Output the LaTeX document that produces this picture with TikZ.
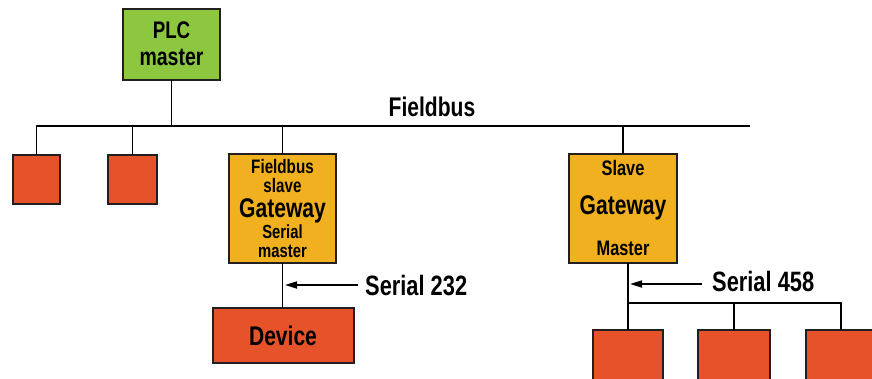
\documentclass[tikz,border=0pt]{standalone}
\usepackage{fontspec}
\setmainfont{Liberation Sans}[FakeStretch=0.78]
\usetikzlibrary{arrows.meta}
\definecolor{plcgreen}{RGB}{141,198,63}
\definecolor{gworange}{RGB}{240,176,32}
\definecolor{devred}{RGB}{230,82,42}
\definecolor{boxline}{RGB}{35,31,32}
\begin{document}
\begin{tikzpicture}[x=1pt,y=-1pt,
  box/.style={draw=boxline, line width=2pt, inner sep=0pt, outer sep=0pt},
  wire/.style={line width=1.7pt, draw=black},
  arr/.style={wire, -{Triangle[length=12pt,width=7pt]}},
  txt/.style={font=\bfseries\fontsize{#1}{#1}\selectfont, inner sep=0pt, anchor=base, text=black},
  txt/.default=27]
\clip (0,0) rectangle (872,378);
\fill[white] (0,0) rectangle (872,378);

% boxes
\node[box, fill=plcgreen, minimum width=97pt, minimum height=71pt] (plc) at (171.5,44.5) {};
\node[box, fill=devred, minimum width=47pt, minimum height=49pt] (r1) at (36.5,179.5) {};
\node[box, fill=devred, minimum width=49pt, minimum height=49pt] (r2) at (132.5,179.5) {};
\node[box, fill=gworange, minimum width=107pt, minimum height=109pt] (g1) at (282.5,208.5) {};
\node[box, fill=devred, minimum width=141pt, minimum height=55pt] (dev) at (283.5,335.5) {};
\node[box, fill=gworange, minimum width=108pt, minimum height=109pt] (g2) at (623,208.5) {};
\node[box, fill=devred, minimum width=70pt, minimum height=56pt] (ra) at (628,358) {};
\node[box, fill=devred, minimum width=72pt, minimum height=56pt] (rb) at (734,358) {};
\node[box, fill=devred, minimum width=70pt, minimum height=56pt] (rc) at (841,358) {};

% texts
\node[txt=24] (tplc) at (171.5,38) {PLC};
\node[txt=25] (tmaster) at (171.5,65) {master};
\node[txt=27] (tfb) at (432,116) {Fieldbus};
\node[txt=19.5] (g1a) at (282.5,173) {Fieldbus};
\node[txt=19.5] (g1b) at (282.5,192) {slave};
\node[txt=27] (g1c) at (282.5,217) {Gateway};
\node[txt=19] (g1d) at (282.5,238.5) {Serial};
\node[txt=19] (g1e) at (282.5,257.5) {master};
\node[txt=21] (g2a) at (623,175) {Slave};
\node[txt=27] (g2b) at (623,214) {Gateway};
\node[txt=21] (g2c) at (623,255) {Master};
\node[txt=27] (tdev) at (283,345) {Device};
\node[txt=28, anchor=base west] (s232) at (365,295) {Serial 232};
\node[txt=28, anchor=base west] (s458) at (712,291) {Serial 458};

% fieldbus
\coordinate (busL) at (36,126);
\coordinate (busR) at (750,126);
\draw[wire] (busL) -- (busR);
\draw[wire] (plc.south) -- (plc.south |- busL);
\draw[wire] (r1.north |- busL) -- (r1.north);
\draw[wire] (r2.north |- busL) -- (r2.north);
\draw[wire] (g1.north |- busL) -- (g1.north);
\draw[wire] (g2.north |- busL) -- (g2.north);

% serial 232
\draw[wire] (g1.south) -- (g1.south |- dev.north);
\coordinate (a1) at (358,285);
\coordinate (a1e) at (285,285);
\draw[arr] (a1) -- (a1e);

% serial 458
\draw[wire] (ra.north |- g2.south) -- (ra.north);
\coordinate (bus2) at (628,303);
\draw[wire] (bus2) -| (rb.north);
\draw[wire] (bus2) -| (rc.north);
\coordinate (a2) at (702,284);
\coordinate (a2e) at (630,284);
\draw[arr] (a2) -- (a2e);
\end{tikzpicture}
\end{document}
